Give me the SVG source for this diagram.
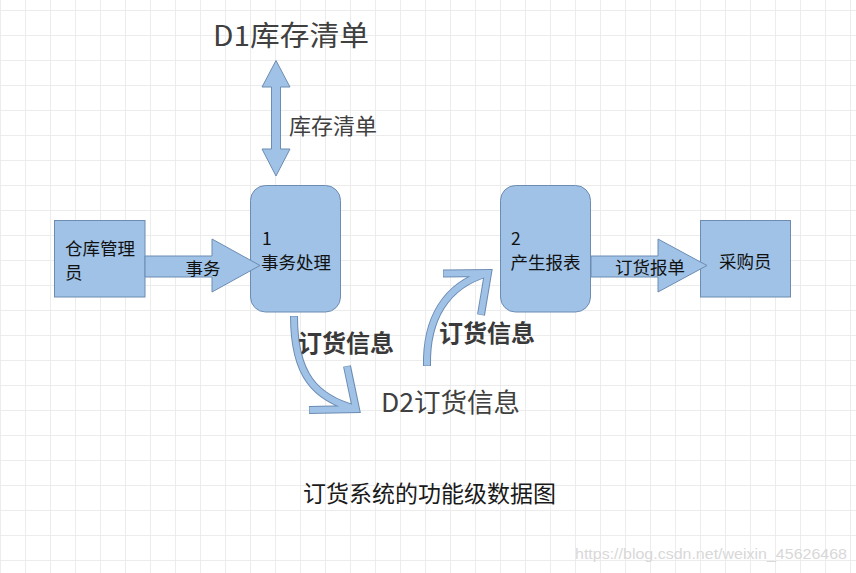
<svg xmlns="http://www.w3.org/2000/svg" width="856" height="573" viewBox="0 0 856 573">
<style>
.box{fill:#9fc2e6;stroke:#6d8cb2;stroke-width:1}
.arr{fill:#9fc2e6;stroke:#6d8cb2;stroke-width:1;stroke-linejoin:miter}
.cOut{fill:none;stroke:#6d8cb2;stroke-width:8;stroke-linejoin:miter;stroke-miterlimit:10}
.cIn{fill:none;stroke:#9fc2e6;stroke-width:6;stroke-linejoin:miter;stroke-miterlimit:10}
.nt{font-family:"Noto Sans CJK SC","Liberation Sans",sans-serif;font-size:17.5px;fill:#111}
.lbl{font-family:"Noto Sans CJK SC","Liberation Sans",sans-serif;fill:#404040}
.bold{font-weight:bold;font-size:24px;fill:#3a3a3a}
</style>
<defs>
<pattern id="grid" patternUnits="userSpaceOnUse" x="0" y="10" width="25" height="25">
<rect x="0" y="0" width="1" height="25" fill="#ececec"/>
<rect x="0" y="0" width="25" height="1" fill="#ececec"/>
</pattern>
</defs>
<rect width="856" height="573" fill="#ffffff"/>
<rect width="856" height="573" fill="url(#grid)"/>

<g id="warehouse-clerk">
<rect class="box" x="54.5" y="220.5" width="90.5" height="76.5"/>
<text class="nt" x="65" y="254.5">仓库管理</text>
<text class="nt" x="65" y="279">员</text>
</g>
<g id="process1">
<rect class="box" x="250.5" y="185.5" width="90" height="126.5" rx="15" ry="15"/>
<text class="nt" x="262" y="245">1</text>
<text class="nt" x="261" y="268.5">事务处理</text>
</g>
<g id="process2">
<rect class="box" x="500.5" y="185.5" width="90" height="126.5" rx="15" ry="15"/>
<text class="nt" x="511" y="245">2</text>
<text class="nt" x="510.5" y="268.5">产生报表</text>
</g>
<g id="buyer">
<rect class="box" x="700.5" y="220.5" width="90" height="76.5"/>
<text class="nt" x="719" y="268.3">采购员</text>
</g>
<g id="d1">
<text class="lbl" x="213" y="46" font-size="28" textLength="156" lengthAdjust="spacingAndGlyphs">D1库存清单</text>
</g>
<g id="d2">
<text class="lbl" x="381" y="412" font-size="26" textLength="139" lengthAdjust="spacingAndGlyphs">D2订货信息</text>
</g>

<g id="connectors">
<polygon class="arr" points="276,60.5 290,87 280.5,87 280.5,149 290,149 276,176 262,149 271.5,149 271.5,87 262,87"/>
<text class="lbl" x="289" y="134.4" font-size="22">库存清单</text>

<polygon class="arr" points="145,256 212,256 212,239 260,265.5 212,292 212,277 145,277"/>
<text class="nt" x="185.5" y="274.5">事务</text>

<polygon class="arr" points="591,256 658,256 658,239 707,265.5 658,292 658,277 591,277"/>
<text class="nt" x="615" y="273.7">订货报单</text>

<path class="cOut" d="M294,316 C294,375 315,398 356,409 M347,366 L356,409 L309,410"/>
<path class="cIn" d="M294,316.5 C294,375 315,398 356,409 M347,366.5 L356,409 L309.5,410"/>
<text class="lbl bold" x="298" y="352">订货信息</text>

<path class="cOut" d="M427,366 C426,320 445,285 488,273 M443,273.5 L488,273 L481,315"/>
<path class="cIn" d="M427,365.5 C426,320 445,285 488,273 M443.5,273.5 L488,273 L481,314.5"/>
<text class="lbl bold" x="439" y="342">订货信息</text>
</g>

<text x="303" y="501.5" font-family="Noto Sans CJK SC, sans-serif" font-size="23" fill="#1a1a1a">订货系统的功能级数据图</text>
<text x="575" y="558.5" font-family="Liberation Sans, Arial, sans-serif" font-size="15" fill="#d8d8d8" textLength="272" lengthAdjust="spacingAndGlyphs">https://blog.csdn.net/weixin_45626468</text>
</svg>
